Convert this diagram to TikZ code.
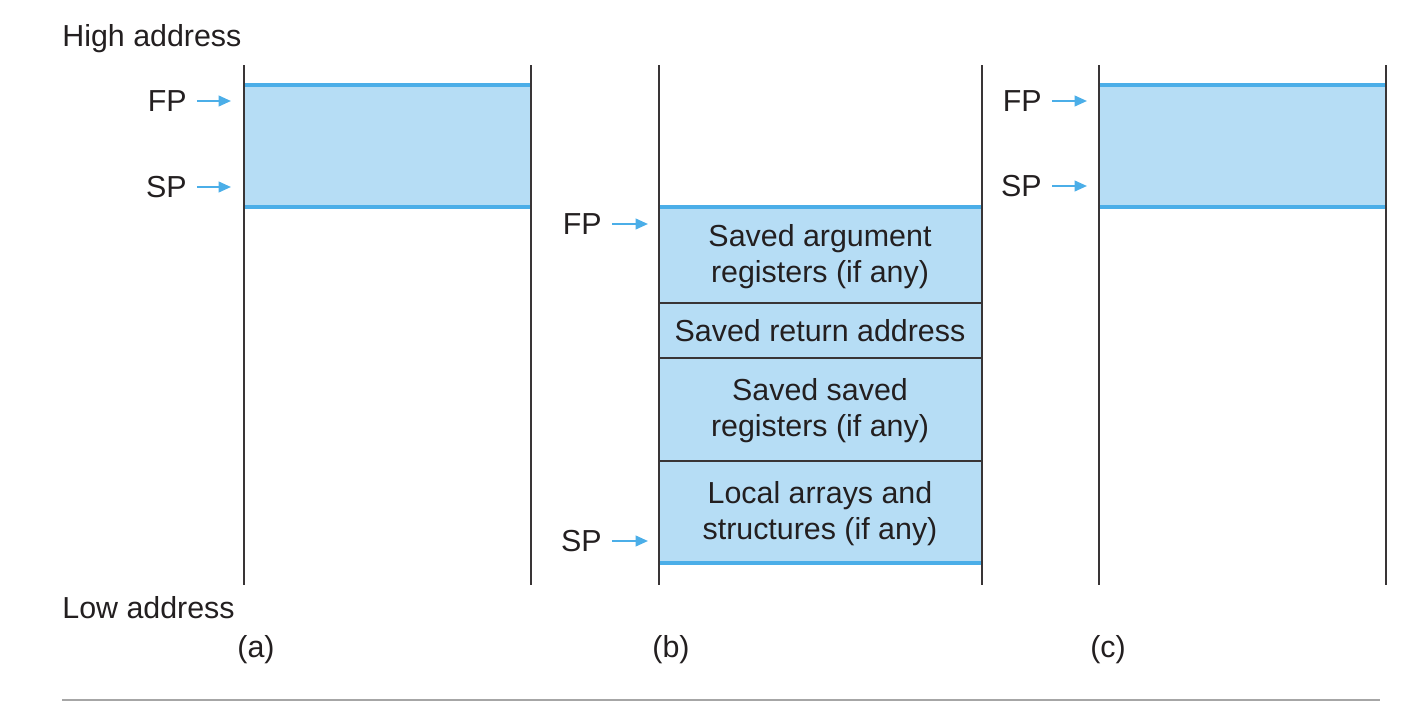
\documentclass[tikz,border=0pt]{standalone}
\usepackage{fontspec}
\setmainfont{Liberation Sans}
\usetikzlibrary{arrows.meta}
\definecolor{stackfill}{HTML}{B6DDF5}
\definecolor{stackedge}{HTML}{4BAEE8}
\definecolor{inkgray}{HTML}{231F20}
\tikzset{
  lbl/.style={font=\fontsize{17.3}{20.5}\selectfont, text=inkgray, inner sep=0pt},
  slot/.style={lbl, align=center},
  ptr/.style={stackedge, line width=1.2pt, shorten <=0.2cm, -{Triangle[length=7pt,width=6pt]}},
  wall/.style={inkgray!90, line width=1.1pt},
  divider/.style={inkgray!90, line width=0.8pt},
  frameedge/.style={stackedge, line width=2.2pt},
}
\begin{document}
\begin{tikzpicture}[x=0.02cm,y=-0.02cm]
  \useasboundingbox (0,0) rectangle (1428,710);
  % filled frames
  \fill[stackfill] (244,85) rectangle (531,207);
  \fill[stackfill] (659,207) rectangle (982,563);
  \fill[stackfill] (1099,85) rectangle (1386,207);
  \draw[divider] (659,303) -- (982,303) (659,358) -- (982,358) (659,461) -- (982,461);
  \draw[frameedge]
    (244,85) -- (531,85) (244,207) -- (531,207)
    (659,207) -- (982,207) (659,563) -- (982,563)
    (1099,85) -- (1386,85) (1099,207) -- (1386,207);
  % stack walls
  \foreach \x in {244,531,659,982,1099,1386}
    \draw[wall] (\x,65) -- (\x,585);

  \node[lbl, anchor=base west] (high) at (62,47) {High address};
  \node[lbl, anchor=base west] (low) at (62,618) {Low address};

  % pointers: name/label/text x/tip x/y
  \foreach \n/\t/\lx/\tx/\y in {fpa/FP/187/231/101, spa/SP/187/231/187,
      fpb/FP/602/648/224, spb/SP/602/648/541,
      fpc/FP/1042/1087/101, spc/SP/1042/1087/186} {
    \node[lbl, anchor=east] (\n) at (\lx,\y) {\t};
    \coordinate (\n-tip) at (\tx,\y);
    \draw[ptr] (\n) -- (\n-tip);
  }

  \node[slot] (args) at (820,257) {Saved argument\\registers (if any)};
  \node[slot] (ra) at (820,331) {Saved return address};
  \node[slot] (saved) at (820,411) {Saved saved\\registers (if any)};
  \node[slot] (local) at (820,514) {Local arrays and\\structures (if any)};

  \node[lbl] (capa) at (256,650) {(a)};
  \node[lbl] (capb) at (671,650) {(b)};
  \node[lbl] (capc) at (1108,650) {(c)};

  \draw[gray!70, line width=0.8pt] (62,700) -- (1380,700);
\end{tikzpicture}
\end{document}
